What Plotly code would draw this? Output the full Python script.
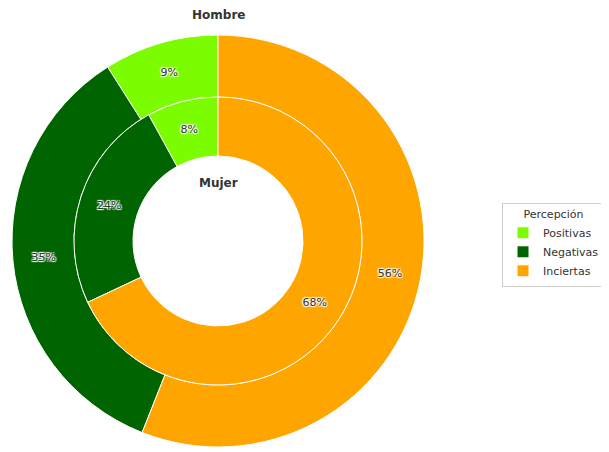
import plotly.graph_objects as go

categories = ["Positivas", "Negativas", "Inciertas"]
hombre = [9, 35, 56]
mujer = [8, 24, 68]
colors = ["#7CFC00", "#006400", "#FFA500"]

# page body has an 8px margin, so figure coords are page coords minus 8
W, H = 601, 444
cx, cy = 210, 233
r_out, r_in, r_hole = 206, 144, 85

def dom(r):
    return dict(x=[(cx - r) / W, (cx + r) / W], y=[1 - (cy + r) / H, 1 - (cy - r) / H])

def first_rot(vals):
    # plotly ends the first counterclockwise slice at `rotation`; shift so it starts at 12 o'clock
    return -360.0 * vals[0] / sum(vals)

txtfont = dict(family="DejaVu Sans", size=11, color="#333333",
               shadow="1px 1px 1px white, -1px -1px 1px white, 1px -1px 1px white, -1px 1px 1px white")

fig = go.Figure()
fig.add_trace(go.Pie(
    labels=categories, values=hombre, hole=r_in / r_out, sort=False,
    direction="counterclockwise", rotation=first_rot(hombre), domain=dom(r_out),
    marker=dict(colors=colors, line=dict(color="white", width=1)),
    texttemplate="%{value}%", textposition="inside", insidetextorientation="horizontal",
    textfont=txtfont, showlegend=True, hoverinfo="label+percent",
))
fig.add_trace(go.Pie(
    labels=categories, values=mujer, hole=r_hole / r_in, sort=False,
    direction="counterclockwise", rotation=first_rot(mujer), domain=dom(r_in),
    marker=dict(colors=colors, line=dict(color="white", width=1)),
    texttemplate="%{value}%", textposition="inside", insidetextorientation="horizontal",
    textfont=txtfont, showlegend=False, hoverinfo="label+percent",
))

fig.update_layout(
    width=W, height=H, margin=dict(l=0, r=0, t=0, b=0, autoexpand=False),
    paper_bgcolor="white", plot_bgcolor="white",
    font=dict(family="DejaVu Sans", size=11, color="#333333"),
    uniformtext=dict(minsize=11, mode="show"),
    legend=dict(
        title=dict(text="Percepción", side="top center", font=dict(size=11, color="#333333")),
        x=597 / W, y=1 - 237 / H, xanchor="right", yanchor="middle",
        bordercolor="#cccccc", borderwidth=1, bgcolor="white",
        font=dict(size=11, color="#333333"), itemwidth=30, tracegroupgap=0,
    ),
    annotations=[
        dict(text="<b>Hombre</b>", x=cx / W, y=1 - 7 / H, xref="paper", yref="paper",
             xanchor="center", yanchor="middle",
             showarrow=False, font=dict(size=12, color="#333333")),
        dict(text="<b>Mujer</b>", x=cx / W, y=1 - 175 / H, xref="paper", yref="paper",
             xanchor="center", yanchor="middle",
             showarrow=False, font=dict(size=12, color="#333333")),
    ],
)

fig.write_html("out.html")
